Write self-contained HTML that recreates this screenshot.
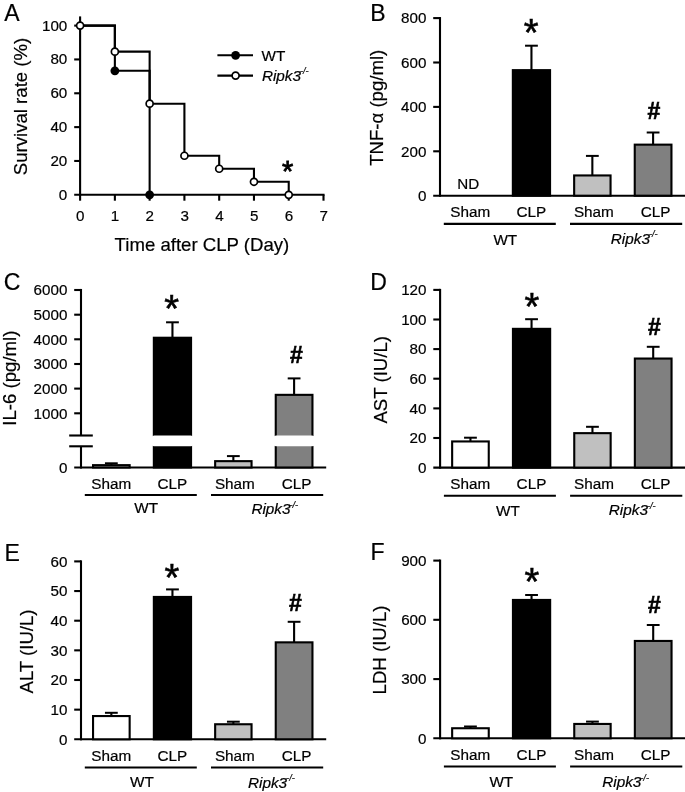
<!DOCTYPE html>
<html><head><meta charset="utf-8"><title>Figure</title>
<style>
html,body{margin:0;padding:0;background:#fff;}
svg{display:block;will-change:transform;}
svg text{font-family:"Liberation Sans", Arial, Helvetica, sans-serif;fill:#000;stroke:#000;stroke-width:0.2px;}
</style></head>
<body>
<svg width="685" height="792" viewBox="0 0 685 792">
<rect width="685" height="792" fill="#fff"/>
<text x="4.20" y="20.60" font-size="23.0" text-anchor="start" font-weight="normal" font-style="normal" >A</text>
<line x1="80.10" y1="16.40" x2="80.10" y2="195.85" stroke="#000" stroke-width="2.1" />
<line x1="74.20" y1="194.80" x2="324.55" y2="194.80" stroke="#000" stroke-width="2.1" />
<text x="67.30" y="199.80" font-size="15.2" text-anchor="end" font-weight="normal" font-style="normal" >0</text>
<line x1="74.20" y1="160.96" x2="80.10" y2="160.96" stroke="#000" stroke-width="2.1" />
<text x="67.30" y="165.96" font-size="15.2" text-anchor="end" font-weight="normal" font-style="normal" >20</text>
<line x1="74.20" y1="127.12" x2="80.10" y2="127.12" stroke="#000" stroke-width="2.1" />
<text x="67.30" y="132.12" font-size="15.2" text-anchor="end" font-weight="normal" font-style="normal" >40</text>
<line x1="74.20" y1="93.28" x2="80.10" y2="93.28" stroke="#000" stroke-width="2.1" />
<text x="67.30" y="98.28" font-size="15.2" text-anchor="end" font-weight="normal" font-style="normal" >60</text>
<line x1="74.20" y1="59.44" x2="80.10" y2="59.44" stroke="#000" stroke-width="2.1" />
<text x="67.30" y="64.44" font-size="15.2" text-anchor="end" font-weight="normal" font-style="normal" >80</text>
<line x1="74.20" y1="25.60" x2="80.10" y2="25.60" stroke="#000" stroke-width="2.1" />
<text x="67.30" y="30.60" font-size="15.2" text-anchor="end" font-weight="normal" font-style="normal" >100</text>
<line x1="80.10" y1="194.80" x2="80.10" y2="200.70" stroke="#000" stroke-width="2.1" />
<text x="80.30" y="221.40" font-size="15.2" text-anchor="middle" font-weight="normal" font-style="normal" >0</text>
<line x1="114.87" y1="194.80" x2="114.87" y2="200.70" stroke="#000" stroke-width="2.1" />
<text x="115.07" y="221.40" font-size="15.2" text-anchor="middle" font-weight="normal" font-style="normal" >1</text>
<line x1="149.64" y1="194.80" x2="149.64" y2="200.70" stroke="#000" stroke-width="2.1" />
<text x="149.84" y="221.40" font-size="15.2" text-anchor="middle" font-weight="normal" font-style="normal" >2</text>
<line x1="184.41" y1="194.80" x2="184.41" y2="200.70" stroke="#000" stroke-width="2.1" />
<text x="184.61" y="221.40" font-size="15.2" text-anchor="middle" font-weight="normal" font-style="normal" >3</text>
<line x1="219.19" y1="194.80" x2="219.19" y2="200.70" stroke="#000" stroke-width="2.1" />
<text x="219.39" y="221.40" font-size="15.2" text-anchor="middle" font-weight="normal" font-style="normal" >4</text>
<line x1="253.96" y1="194.80" x2="253.96" y2="200.70" stroke="#000" stroke-width="2.1" />
<text x="254.16" y="221.40" font-size="15.2" text-anchor="middle" font-weight="normal" font-style="normal" >5</text>
<line x1="288.73" y1="194.80" x2="288.73" y2="200.70" stroke="#000" stroke-width="2.1" />
<text x="288.93" y="221.40" font-size="15.2" text-anchor="middle" font-weight="normal" font-style="normal" >6</text>
<line x1="323.50" y1="194.80" x2="323.50" y2="200.70" stroke="#000" stroke-width="2.1" />
<text x="323.70" y="221.40" font-size="15.2" text-anchor="middle" font-weight="normal" font-style="normal" >7</text>
<text transform="translate(26.60,106.50) rotate(-90)" font-size="18.6" text-anchor="middle">Survival rate (%)</text>
<text x="114.60" y="251.40" font-size="18.6" text-anchor="start" font-weight="normal" font-style="normal" >Time after CLP (Day)</text>
<polyline fill="none" stroke="#000" stroke-width="2.1" stroke-linejoin="miter" points="80.10,25.60 114.87,25.60 114.87,51.63 149.64,51.63 149.64,103.69 184.41,103.69 184.41,155.75 219.19,155.75 219.19,168.77 253.96,168.77 253.96,181.78 288.73,181.78 288.73,194.80"/>
<polyline fill="none" stroke="#000" stroke-width="2.1" stroke-linejoin="miter" points="80.10,25.60 114.87,25.60 114.87,70.78 149.64,70.78 149.64,194.80"/>
<circle cx="114.87" cy="70.78" r="4.4" fill="#000"/>
<circle cx="149.64" cy="194.80" r="4.4" fill="#000"/>
<circle cx="80.10" cy="25.60" r="3.5" fill="#fff" stroke="#000" stroke-width="1.7"/>
<circle cx="114.87" cy="51.63" r="3.5" fill="#fff" stroke="#000" stroke-width="1.7"/>
<circle cx="149.64" cy="103.69" r="3.5" fill="#fff" stroke="#000" stroke-width="1.7"/>
<circle cx="184.41" cy="155.75" r="3.5" fill="#fff" stroke="#000" stroke-width="1.7"/>
<circle cx="219.19" cy="168.77" r="3.5" fill="#fff" stroke="#000" stroke-width="1.7"/>
<circle cx="253.96" cy="181.78" r="3.5" fill="#fff" stroke="#000" stroke-width="1.7"/>
<circle cx="288.73" cy="194.80" r="3.5" fill="#fff" stroke="#000" stroke-width="1.7"/>
<line x1="217.40" y1="55.30" x2="253.00" y2="55.30" stroke="#000" stroke-width="2.1" />
<circle cx="235.6" cy="55.3" r="4.4" fill="#000"/>
<line x1="217.40" y1="75.60" x2="253.00" y2="75.60" stroke="#000" stroke-width="2.1" />
<circle cx="235.6" cy="75.6" r="3.5" fill="#fff" stroke="#000" stroke-width="1.7"/>
<text x="261.50" y="60.90" font-size="15.3" text-anchor="start" font-weight="normal" font-style="normal" >WT</text>
<text x="261.90" y="80.70" font-size="15.3" font-style="italic" text-anchor="start">Ripk3<tspan font-size="9.2" dx="-1.0" dy="-6.4">-/-</tspan></text>
<text x="287.70" y="181.42" font-size="28.9" text-anchor="middle" font-weight="normal" font-style="normal" style="stroke-width:0.8px">*</text>
<text x="370.30" y="21.10" font-size="23.0" text-anchor="start" font-weight="normal" font-style="normal" >B</text>
<line x1="440.00" y1="17.05" x2="440.00" y2="196.75" stroke="#000" stroke-width="2.1" />
<line x1="433.20" y1="195.70" x2="686.00" y2="195.70" stroke="#000" stroke-width="2.1" />
<text x="426.40" y="200.90" font-size="15.2" text-anchor="end" font-weight="normal" font-style="normal" >0</text>
<line x1="433.20" y1="151.30" x2="440.00" y2="151.30" stroke="#000" stroke-width="2.1" />
<text x="426.40" y="156.50" font-size="15.2" text-anchor="end" font-weight="normal" font-style="normal" >200</text>
<line x1="433.20" y1="106.90" x2="440.00" y2="106.90" stroke="#000" stroke-width="2.1" />
<text x="426.40" y="112.10" font-size="15.2" text-anchor="end" font-weight="normal" font-style="normal" >400</text>
<line x1="433.20" y1="62.50" x2="440.00" y2="62.50" stroke="#000" stroke-width="2.1" />
<text x="426.40" y="67.70" font-size="15.2" text-anchor="end" font-weight="normal" font-style="normal" >600</text>
<line x1="433.20" y1="18.10" x2="440.00" y2="18.10" stroke="#000" stroke-width="2.1" />
<text x="426.40" y="23.30" font-size="15.2" text-anchor="end" font-weight="normal" font-style="normal" >800</text>
<text transform="translate(383.00,107.80) rotate(-90)" font-size="18.6" text-anchor="middle">TNF-α (pg/ml)</text>
<line x1="531.45" y1="45.70" x2="531.45" y2="70.10" stroke="#000" stroke-width="2.1" />
<line x1="525.05" y1="45.70" x2="537.85" y2="45.70" stroke="#000" stroke-width="2.0" />
<rect x="512.85" y="70.15" width="37.20" height="125.55" fill="#000" stroke="#000" stroke-width="2.1"/>
<line x1="592.35" y1="155.90" x2="592.35" y2="175.40" stroke="#000" stroke-width="2.1" />
<line x1="585.95" y1="155.90" x2="598.75" y2="155.90" stroke="#000" stroke-width="2.0" />
<rect x="574.15" y="175.45" width="36.40" height="20.25" fill="#c0c0c0" stroke="#000" stroke-width="2.1"/>
<line x1="653.10" y1="132.50" x2="653.10" y2="144.60" stroke="#000" stroke-width="2.1" />
<line x1="646.70" y1="132.50" x2="659.50" y2="132.50" stroke="#000" stroke-width="2.0" />
<rect x="634.75" y="144.65" width="36.70" height="51.05" fill="#808080" stroke="#000" stroke-width="2.1"/>
<text x="470.20" y="217.10" font-size="15.3" text-anchor="middle" font-weight="normal" font-style="normal" >Sham</text>
<text x="531.40" y="217.10" font-size="15.3" text-anchor="middle" font-weight="normal" font-style="normal" >CLP</text>
<text x="593.90" y="217.10" font-size="15.3" text-anchor="middle" font-weight="normal" font-style="normal" >Sham</text>
<text x="655.60" y="217.10" font-size="15.3" text-anchor="middle" font-weight="normal" font-style="normal" >CLP</text>
<line x1="443.80" y1="223.90" x2="555.80" y2="223.90" stroke="#000" stroke-width="2.1" />
<line x1="570.00" y1="223.90" x2="682.20" y2="223.90" stroke="#000" stroke-width="2.1" />
<text x="493.40" y="244.70" font-size="15.3" text-anchor="start" font-weight="normal" font-style="normal" >WT</text>
<text x="610.80" y="243.80" font-size="15.3" font-style="italic" text-anchor="start">Ripk3<tspan font-size="9.2" dx="-1.0" dy="-6.4">-/-</tspan></text>
<text x="531.20" y="46.23" font-size="38.0" text-anchor="middle" font-weight="normal" font-style="normal" style="stroke-width:0.6px">*</text>
<text x="654.00" y="118.98" font-size="23.0" text-anchor="middle" font-weight="bold" font-style="normal" style="stroke-width:0.6px">#</text>
<text x="468.30" y="188.70" font-size="15.2" text-anchor="middle" font-weight="normal" font-style="normal" >ND</text>
<text x="3.80" y="290.40" font-size="23.0" text-anchor="start" font-weight="normal" font-style="normal" >C</text>
<line x1="81.00" y1="288.95" x2="81.00" y2="435.50" stroke="#000" stroke-width="2.1" />
<line x1="81.00" y1="446.30" x2="81.00" y2="468.55" stroke="#000" stroke-width="2.1" />
<line x1="69.20" y1="435.50" x2="92.80" y2="435.50" stroke="#000" stroke-width="2.1" />
<line x1="69.20" y1="446.30" x2="92.80" y2="446.30" stroke="#000" stroke-width="2.1" />
<line x1="74.20" y1="467.50" x2="326.20" y2="467.50" stroke="#000" stroke-width="2.1" />
<text x="67.40" y="472.70" font-size="15.2" text-anchor="end" font-weight="normal" font-style="normal" >0</text>
<line x1="74.20" y1="413.30" x2="81.00" y2="413.30" stroke="#000" stroke-width="2.1" />
<text x="67.40" y="418.50" font-size="15.2" text-anchor="end" font-weight="normal" font-style="normal" >1000</text>
<line x1="74.20" y1="388.60" x2="81.00" y2="388.60" stroke="#000" stroke-width="2.1" />
<text x="67.40" y="393.80" font-size="15.2" text-anchor="end" font-weight="normal" font-style="normal" >2000</text>
<line x1="74.20" y1="364.00" x2="81.00" y2="364.00" stroke="#000" stroke-width="2.1" />
<text x="67.40" y="369.20" font-size="15.2" text-anchor="end" font-weight="normal" font-style="normal" >3000</text>
<line x1="74.20" y1="339.30" x2="81.00" y2="339.30" stroke="#000" stroke-width="2.1" />
<text x="67.40" y="344.50" font-size="15.2" text-anchor="end" font-weight="normal" font-style="normal" >4000</text>
<line x1="74.20" y1="314.70" x2="81.00" y2="314.70" stroke="#000" stroke-width="2.1" />
<text x="67.40" y="319.90" font-size="15.2" text-anchor="end" font-weight="normal" font-style="normal" >5000</text>
<line x1="74.20" y1="290.00" x2="81.00" y2="290.00" stroke="#000" stroke-width="2.1" />
<text x="67.40" y="295.20" font-size="15.2" text-anchor="end" font-weight="normal" font-style="normal" >6000</text>
<text transform="translate(15.60,378.20) rotate(-90)" font-size="18.6" text-anchor="middle">IL-6 (pg/ml)</text>
<line x1="111.35" y1="463.30" x2="111.35" y2="465.10" stroke="#000" stroke-width="2.1" />
<line x1="104.95" y1="463.30" x2="117.75" y2="463.30" stroke="#000" stroke-width="2.0" />
<rect x="93.05" y="465.15" width="36.60" height="2.35" fill="#fff" stroke="#000" stroke-width="2.1"/>
<line x1="172.45" y1="322.30" x2="172.45" y2="337.70" stroke="#000" stroke-width="2.1" />
<line x1="166.05" y1="322.30" x2="178.85" y2="322.30" stroke="#000" stroke-width="2.0" />
<rect x="153.85" y="337.75" width="37.20" height="129.75" fill="#000" stroke="#000" stroke-width="2.1"/>
<line x1="233.35" y1="456.10" x2="233.35" y2="461.10" stroke="#000" stroke-width="2.1" />
<line x1="226.95" y1="456.10" x2="239.75" y2="456.10" stroke="#000" stroke-width="2.0" />
<rect x="215.15" y="461.15" width="36.40" height="6.35" fill="#c0c0c0" stroke="#000" stroke-width="2.1"/>
<line x1="294.10" y1="378.40" x2="294.10" y2="394.80" stroke="#000" stroke-width="2.1" />
<line x1="287.70" y1="378.40" x2="300.50" y2="378.40" stroke="#000" stroke-width="2.0" />
<rect x="275.75" y="394.85" width="36.70" height="72.65" fill="#808080" stroke="#000" stroke-width="2.1"/>
<rect x="151.80" y="435.50" width="41.30" height="10.80" fill="#fff" rx="2.5" ry="1.5"/>
<rect x="273.70" y="435.50" width="40.80" height="10.80" fill="#fff" rx="2.5" ry="1.5"/>
<text x="111.20" y="488.90" font-size="15.3" text-anchor="middle" font-weight="normal" font-style="normal" >Sham</text>
<text x="172.40" y="488.90" font-size="15.3" text-anchor="middle" font-weight="normal" font-style="normal" >CLP</text>
<text x="234.90" y="488.90" font-size="15.3" text-anchor="middle" font-weight="normal" font-style="normal" >Sham</text>
<text x="296.60" y="488.90" font-size="15.3" text-anchor="middle" font-weight="normal" font-style="normal" >CLP</text>
<line x1="84.80" y1="495.00" x2="196.80" y2="495.00" stroke="#000" stroke-width="2.1" />
<line x1="211.00" y1="495.00" x2="323.20" y2="495.00" stroke="#000" stroke-width="2.1" />
<text x="134.30" y="512.50" font-size="15.3" text-anchor="start" font-weight="normal" font-style="normal" >WT</text>
<text x="251.40" y="514.20" font-size="15.3" font-style="italic" text-anchor="start">Ripk3<tspan font-size="9.2" dx="-1.0" dy="-6.4">-/-</tspan></text>
<text x="171.60" y="322.33" font-size="38.0" text-anchor="middle" font-weight="normal" font-style="normal" style="stroke-width:0.6px">*</text>
<text x="296.30" y="363.07" font-size="23.0" text-anchor="middle" font-weight="bold" font-style="normal" style="stroke-width:0.6px">#</text>
<text x="370.30" y="289.60" font-size="23.0" text-anchor="start" font-weight="normal" font-style="normal" >D</text>
<line x1="440.10" y1="288.85" x2="440.10" y2="468.65" stroke="#000" stroke-width="2.1" />
<line x1="433.30" y1="467.60" x2="686.00" y2="467.60" stroke="#000" stroke-width="2.1" />
<text x="426.50" y="472.80" font-size="15.2" text-anchor="end" font-weight="normal" font-style="normal" >0</text>
<line x1="433.30" y1="438.00" x2="440.10" y2="438.00" stroke="#000" stroke-width="2.1" />
<text x="426.50" y="443.20" font-size="15.2" text-anchor="end" font-weight="normal" font-style="normal" >20</text>
<line x1="433.30" y1="408.40" x2="440.10" y2="408.40" stroke="#000" stroke-width="2.1" />
<text x="426.50" y="413.60" font-size="15.2" text-anchor="end" font-weight="normal" font-style="normal" >40</text>
<line x1="433.30" y1="378.70" x2="440.10" y2="378.70" stroke="#000" stroke-width="2.1" />
<text x="426.50" y="383.90" font-size="15.2" text-anchor="end" font-weight="normal" font-style="normal" >60</text>
<line x1="433.30" y1="349.10" x2="440.10" y2="349.10" stroke="#000" stroke-width="2.1" />
<text x="426.50" y="354.30" font-size="15.2" text-anchor="end" font-weight="normal" font-style="normal" >80</text>
<line x1="433.30" y1="319.50" x2="440.10" y2="319.50" stroke="#000" stroke-width="2.1" />
<text x="426.50" y="324.70" font-size="15.2" text-anchor="end" font-weight="normal" font-style="normal" >100</text>
<line x1="433.30" y1="289.90" x2="440.10" y2="289.90" stroke="#000" stroke-width="2.1" />
<text x="426.50" y="295.10" font-size="15.2" text-anchor="end" font-weight="normal" font-style="normal" >120</text>
<text transform="translate(387.00,379.80) rotate(-90)" font-size="18.6" text-anchor="middle">AST (IU/L)</text>
<line x1="470.45" y1="437.70" x2="470.45" y2="441.40" stroke="#000" stroke-width="2.1" />
<line x1="464.05" y1="437.70" x2="476.85" y2="437.70" stroke="#000" stroke-width="2.0" />
<rect x="452.15" y="441.45" width="36.60" height="26.15" fill="#fff" stroke="#000" stroke-width="2.1"/>
<line x1="531.55" y1="319.20" x2="531.55" y2="328.80" stroke="#000" stroke-width="2.1" />
<line x1="525.15" y1="319.20" x2="537.95" y2="319.20" stroke="#000" stroke-width="2.0" />
<rect x="512.95" y="328.85" width="37.20" height="138.75" fill="#000" stroke="#000" stroke-width="2.1"/>
<line x1="592.45" y1="426.80" x2="592.45" y2="433.10" stroke="#000" stroke-width="2.1" />
<line x1="586.05" y1="426.80" x2="598.85" y2="426.80" stroke="#000" stroke-width="2.0" />
<rect x="574.25" y="433.15" width="36.40" height="34.45" fill="#c0c0c0" stroke="#000" stroke-width="2.1"/>
<line x1="653.20" y1="346.80" x2="653.20" y2="358.50" stroke="#000" stroke-width="2.1" />
<line x1="646.80" y1="346.80" x2="659.60" y2="346.80" stroke="#000" stroke-width="2.0" />
<rect x="634.85" y="358.55" width="36.70" height="109.05" fill="#808080" stroke="#000" stroke-width="2.1"/>
<text x="470.30" y="489.00" font-size="15.3" text-anchor="middle" font-weight="normal" font-style="normal" >Sham</text>
<text x="531.50" y="489.00" font-size="15.3" text-anchor="middle" font-weight="normal" font-style="normal" >CLP</text>
<text x="594.00" y="489.00" font-size="15.3" text-anchor="middle" font-weight="normal" font-style="normal" >Sham</text>
<text x="655.70" y="489.00" font-size="15.3" text-anchor="middle" font-weight="normal" font-style="normal" >CLP</text>
<line x1="443.90" y1="495.80" x2="555.90" y2="495.80" stroke="#000" stroke-width="2.1" />
<line x1="570.10" y1="495.80" x2="682.30" y2="495.80" stroke="#000" stroke-width="2.1" />
<text x="496.00" y="516.00" font-size="15.3" text-anchor="start" font-weight="normal" font-style="normal" >WT</text>
<text x="608.80" y="515.40" font-size="15.3" font-style="italic" text-anchor="start">Ripk3<tspan font-size="9.2" dx="-1.0" dy="-6.4">-/-</tspan></text>
<text x="532.00" y="319.83" font-size="38.0" text-anchor="middle" font-weight="normal" font-style="normal" style="stroke-width:0.6px">*</text>
<text x="654.50" y="334.57" font-size="23.0" text-anchor="middle" font-weight="bold" font-style="normal" style="stroke-width:0.6px">#</text>
<text x="4.40" y="560.60" font-size="23.0" text-anchor="start" font-weight="normal" font-style="normal" >E</text>
<line x1="81.00" y1="560.35" x2="81.00" y2="740.35" stroke="#000" stroke-width="2.1" />
<line x1="74.20" y1="739.30" x2="326.20" y2="739.30" stroke="#000" stroke-width="2.1" />
<text x="67.40" y="744.50" font-size="15.2" text-anchor="end" font-weight="normal" font-style="normal" >0</text>
<line x1="74.20" y1="709.65" x2="81.00" y2="709.65" stroke="#000" stroke-width="2.1" />
<text x="67.40" y="714.85" font-size="15.2" text-anchor="end" font-weight="normal" font-style="normal" >10</text>
<line x1="74.20" y1="680.00" x2="81.00" y2="680.00" stroke="#000" stroke-width="2.1" />
<text x="67.40" y="685.20" font-size="15.2" text-anchor="end" font-weight="normal" font-style="normal" >20</text>
<line x1="74.20" y1="650.35" x2="81.00" y2="650.35" stroke="#000" stroke-width="2.1" />
<text x="67.40" y="655.55" font-size="15.2" text-anchor="end" font-weight="normal" font-style="normal" >30</text>
<line x1="74.20" y1="620.70" x2="81.00" y2="620.70" stroke="#000" stroke-width="2.1" />
<text x="67.40" y="625.90" font-size="15.2" text-anchor="end" font-weight="normal" font-style="normal" >40</text>
<line x1="74.20" y1="591.05" x2="81.00" y2="591.05" stroke="#000" stroke-width="2.1" />
<text x="67.40" y="596.25" font-size="15.2" text-anchor="end" font-weight="normal" font-style="normal" >50</text>
<line x1="74.20" y1="561.40" x2="81.00" y2="561.40" stroke="#000" stroke-width="2.1" />
<text x="67.40" y="566.60" font-size="15.2" text-anchor="end" font-weight="normal" font-style="normal" >60</text>
<text transform="translate(33.40,651.50) rotate(-90)" font-size="18.6" text-anchor="middle">ALT (IU/L)</text>
<line x1="111.35" y1="712.80" x2="111.35" y2="716.00" stroke="#000" stroke-width="2.1" />
<line x1="104.95" y1="712.80" x2="117.75" y2="712.80" stroke="#000" stroke-width="2.0" />
<rect x="93.05" y="716.05" width="36.60" height="23.25" fill="#fff" stroke="#000" stroke-width="2.1"/>
<line x1="172.45" y1="589.40" x2="172.45" y2="596.90" stroke="#000" stroke-width="2.1" />
<line x1="166.05" y1="589.40" x2="178.85" y2="589.40" stroke="#000" stroke-width="2.0" />
<rect x="153.85" y="596.95" width="37.20" height="142.35" fill="#000" stroke="#000" stroke-width="2.1"/>
<line x1="233.35" y1="721.70" x2="233.35" y2="724.20" stroke="#000" stroke-width="2.1" />
<line x1="226.95" y1="721.70" x2="239.75" y2="721.70" stroke="#000" stroke-width="2.0" />
<rect x="215.15" y="724.25" width="36.40" height="15.05" fill="#c0c0c0" stroke="#000" stroke-width="2.1"/>
<line x1="294.10" y1="621.80" x2="294.10" y2="642.30" stroke="#000" stroke-width="2.1" />
<line x1="287.70" y1="621.80" x2="300.50" y2="621.80" stroke="#000" stroke-width="2.0" />
<rect x="275.75" y="642.35" width="36.70" height="96.95" fill="#808080" stroke="#000" stroke-width="2.1"/>
<text x="111.20" y="760.70" font-size="15.3" text-anchor="middle" font-weight="normal" font-style="normal" >Sham</text>
<text x="172.40" y="760.70" font-size="15.3" text-anchor="middle" font-weight="normal" font-style="normal" >CLP</text>
<text x="234.90" y="760.70" font-size="15.3" text-anchor="middle" font-weight="normal" font-style="normal" >Sham</text>
<text x="296.60" y="760.70" font-size="15.3" text-anchor="middle" font-weight="normal" font-style="normal" >CLP</text>
<line x1="84.80" y1="767.50" x2="196.80" y2="767.50" stroke="#000" stroke-width="2.1" />
<line x1="211.00" y1="767.50" x2="323.20" y2="767.50" stroke="#000" stroke-width="2.1" />
<text x="130.00" y="787.30" font-size="15.3" text-anchor="start" font-weight="normal" font-style="normal" >WT</text>
<text x="248.00" y="787.50" font-size="15.3" font-style="italic" text-anchor="start">Ripk3<tspan font-size="9.2" dx="-1.0" dy="-6.4">-/-</tspan></text>
<text x="172.00" y="590.63" font-size="38.0" text-anchor="middle" font-weight="normal" font-style="normal" style="stroke-width:0.6px">*</text>
<text x="295.30" y="610.57" font-size="23.0" text-anchor="middle" font-weight="bold" font-style="normal" style="stroke-width:0.6px">#</text>
<text x="370.60" y="560.10" font-size="23.0" text-anchor="start" font-weight="normal" font-style="normal" >F</text>
<line x1="440.10" y1="559.55" x2="440.10" y2="739.35" stroke="#000" stroke-width="2.1" />
<line x1="433.30" y1="738.30" x2="686.00" y2="738.30" stroke="#000" stroke-width="2.1" />
<text x="426.50" y="743.50" font-size="15.2" text-anchor="end" font-weight="normal" font-style="normal" >0</text>
<line x1="433.30" y1="679.10" x2="440.10" y2="679.10" stroke="#000" stroke-width="2.1" />
<text x="426.50" y="684.30" font-size="15.2" text-anchor="end" font-weight="normal" font-style="normal" >300</text>
<line x1="433.30" y1="619.80" x2="440.10" y2="619.80" stroke="#000" stroke-width="2.1" />
<text x="426.50" y="625.00" font-size="15.2" text-anchor="end" font-weight="normal" font-style="normal" >600</text>
<line x1="433.30" y1="560.60" x2="440.10" y2="560.60" stroke="#000" stroke-width="2.1" />
<text x="426.50" y="565.80" font-size="15.2" text-anchor="end" font-weight="normal" font-style="normal" >900</text>
<text transform="translate(386.20,650.00) rotate(-90)" font-size="18.6" text-anchor="middle">LDH (IU/L)</text>
<line x1="470.45" y1="726.50" x2="470.45" y2="728.20" stroke="#000" stroke-width="2.1" />
<line x1="464.05" y1="726.50" x2="476.85" y2="726.50" stroke="#000" stroke-width="2.0" />
<rect x="452.15" y="728.25" width="36.60" height="10.05" fill="#fff" stroke="#000" stroke-width="2.1"/>
<line x1="531.55" y1="595.00" x2="531.55" y2="599.90" stroke="#000" stroke-width="2.1" />
<line x1="525.15" y1="595.00" x2="537.95" y2="595.00" stroke="#000" stroke-width="2.0" />
<rect x="512.95" y="599.95" width="37.20" height="138.35" fill="#000" stroke="#000" stroke-width="2.1"/>
<line x1="592.45" y1="721.60" x2="592.45" y2="723.90" stroke="#000" stroke-width="2.1" />
<line x1="586.05" y1="721.60" x2="598.85" y2="721.60" stroke="#000" stroke-width="2.0" />
<rect x="574.25" y="723.95" width="36.40" height="14.35" fill="#c0c0c0" stroke="#000" stroke-width="2.1"/>
<line x1="653.20" y1="625.00" x2="653.20" y2="640.90" stroke="#000" stroke-width="2.1" />
<line x1="646.80" y1="625.00" x2="659.60" y2="625.00" stroke="#000" stroke-width="2.0" />
<rect x="634.85" y="640.95" width="36.70" height="97.35" fill="#808080" stroke="#000" stroke-width="2.1"/>
<text x="470.30" y="759.70" font-size="15.3" text-anchor="middle" font-weight="normal" font-style="normal" >Sham</text>
<text x="531.50" y="759.70" font-size="15.3" text-anchor="middle" font-weight="normal" font-style="normal" >CLP</text>
<text x="594.00" y="759.70" font-size="15.3" text-anchor="middle" font-weight="normal" font-style="normal" >Sham</text>
<text x="655.70" y="759.70" font-size="15.3" text-anchor="middle" font-weight="normal" font-style="normal" >CLP</text>
<line x1="443.90" y1="766.50" x2="555.90" y2="766.50" stroke="#000" stroke-width="2.1" />
<line x1="570.10" y1="766.50" x2="682.30" y2="766.50" stroke="#000" stroke-width="2.1" />
<text x="489.40" y="787.30" font-size="15.3" text-anchor="start" font-weight="normal" font-style="normal" >WT</text>
<text x="602.20" y="787.30" font-size="15.3" font-style="italic" text-anchor="start">Ripk3<tspan font-size="9.2" dx="-1.0" dy="-6.4">-/-</tspan></text>
<text x="531.80" y="595.13" font-size="38.0" text-anchor="middle" font-weight="normal" font-style="normal" style="stroke-width:0.6px">*</text>
<text x="654.30" y="613.27" font-size="23.0" text-anchor="middle" font-weight="bold" font-style="normal" style="stroke-width:0.6px">#</text>
</svg>
</body></html>
